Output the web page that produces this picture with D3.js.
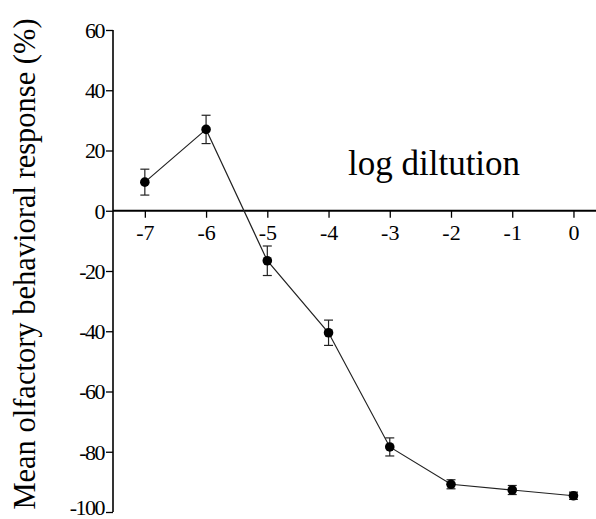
<!DOCTYPE html>
<html>
<head>
<meta charset="utf-8">
<script src="https://cdn.jsdelivr.net/npm/d3@7"></script>
<style>
  body { margin: 0; background: #fff; }
  svg { display: block; }
</style>
</head>
<body>
<div id="chart"></div>
<script>
// dados
const dilutions = [-7, -6, -5, -4, -3, -2, -1, 0];
const responses = [9.5, 27, -16.6, -40.5, -78.4, -90.8, -92.7, -94.6];
const errors = [4.3, 4.7, 4.9, 4.2, 3, 1.5, 1.5, 1.2];
const yTicks = [60, 40, 20, 0, -20, -40, -60, -80, -100];
const xTicks = [-7, -6, -5, -4, -3, -2, -1, 0];

const width = 596, height = 519;
const serif = 'Liberation Serif';

const svg = d3.select('#chart')
    .append('svg')
    .attr('width', width)
    .attr('height', height);

const x = d3.scaleLinear().domain([-7.52, 0.27]).range([113, 590]);
const y = d3.scaleLinear().domain([60, -100]).range([30, 512]);

// eixo y
const yAxis = svg.append('g')
    .attr('transform', 'translate(' + x(-7.52) + ',0)')
    .call(d3.axisLeft(y).tickValues(yTicks).tickSize(7).tickPadding(2).tickFormat(d => d))
    .attr('font-family', serif)
    .attr('font-size', 22);
yAxis.select('.domain').attr('stroke-width', 1.6).attr('d', 'M0,' + y(60) + 'V' + y(-100));
yAxis.selectAll('.tick line').attr('stroke-width', 1.3);
yAxis.selectAll('.tick text')
    .attr('dy', d => d === -100 ? '0.1em' : '0.34em') // -100 sobe um pouco para não cortar
    .attr('letter-spacing', -1.5);

// eixo x no zero
const xAxis = svg.append('g')
    .attr('transform', 'translate(0,' + y(0) + ')')
    .call(d3.axisBottom(x).tickValues(xTicks).tickSize(7).tickPadding(7).tickFormat(d => d))
    .attr('font-family', serif)
    .attr('font-size', 22);
xAxis.select('.domain').attr('stroke-width', 2).attr('d', 'M' + x(-7.52) + ',0H' + width);
xAxis.selectAll('.tick line').attr('stroke-width', 1.3);

// linha
const line = d3.line()
    .x((d, i) => x(dilutions[i]))
    .y(d => y(d));

svg.append('path')
    .datum(responses)
    .attr('fill', 'none')
    .attr('stroke', '#222')
    .attr('stroke-width', 1.2)
    .attr('d', line);

// barras de erro
const eb = svg.append('g').attr('stroke', '#222').attr('stroke-width', 1.2);
responses.forEach((v, i) => {
    const cx = x(dilutions[i]);
    eb.append('line').attr('x1', cx).attr('x2', cx).attr('y1', y(v + errors[i])).attr('y2', y(v - errors[i]));
    eb.append('line').attr('x1', cx - 4.5).attr('x2', cx + 4.5).attr('y1', y(v + errors[i])).attr('y2', y(v + errors[i]));
    eb.append('line').attr('x1', cx - 4.5).attr('x2', cx + 4.5).attr('y1', y(v - errors[i])).attr('y2', y(v - errors[i]));
});

// pontos
svg.append('g')
    .selectAll('circle')
    .data(responses)
    .join('circle')
    .attr('cx', (d, i) => x(dilutions[i]))
    .attr('cy', d => y(d))
    .attr('r', 4.8)
    .attr('fill', '#000');

// títulos
svg.append('text')
    .attr('x', 348)
    .attr('y', 175)
    .attr('font-family', serif)
    .attr('font-size', 35)
    .text('log diltution');

svg.append('text')
    .attr('transform', 'translate(35,' + 264 + ') rotate(-90)')
    .attr('text-anchor', 'middle')
    .attr('font-family', serif)
    .attr('font-size', 30.5)
    .text('Mean olfactory behavioral response (%)');
</script>
</body>
</html>
